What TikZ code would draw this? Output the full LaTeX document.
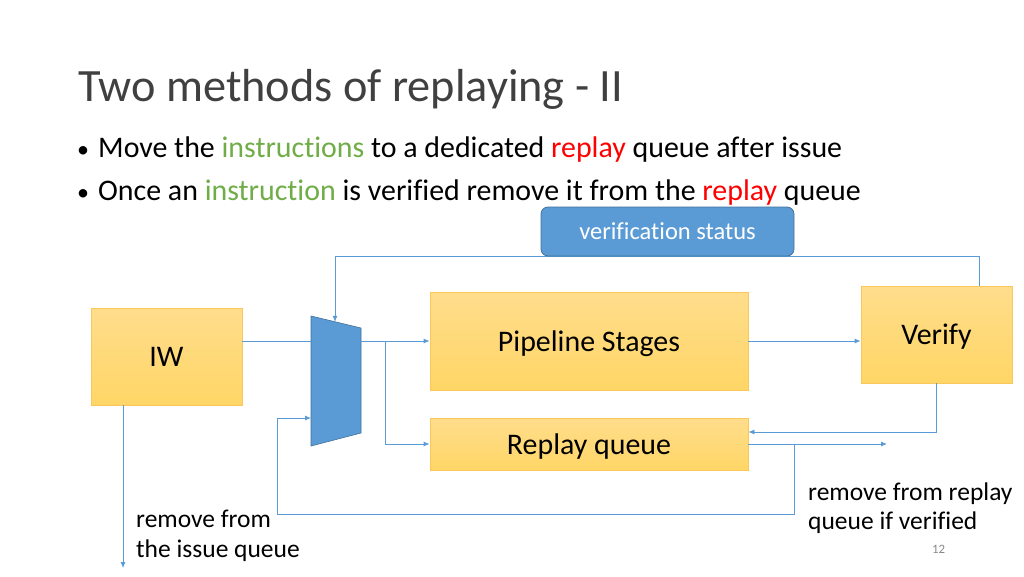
\documentclass[tikz,border=0pt]{standalone}
\usepackage{fontspec}
\setmainfont[Ligatures={NoCommon}]{Carlito}
\usetikzlibrary{arrows.meta,calc}
\definecolor{lnblue}{RGB}{91,155,213}
\definecolor{muxblue}{RGB}{91,155,213}
\definecolor{muxedge}{RGB}{65,113,156}
\definecolor{ytop}{RGB}{255,221,140}
\definecolor{ybot}{RGB}{255,214,102}
\definecolor{yedge}{RGB}{250,200,90}
\definecolor{titlegray}{RGB}{64,64,64}
\definecolor{kwgreen}{RGB}{112,173,71}
\definecolor{kwred}{RGB}{255,0,0}
\definecolor{pagegray}{RGB}{137,137,137}
\begin{document}
\begin{tikzpicture}[x=1pt,y=-1pt,
  ybox/.style={draw=yedge, line width=0.8pt, top color=ytop, bottom color=ybot, inner sep=0pt, font=\fontsize{29.9}{34}\selectfont, text height=28.5pt, text depth=8pt},
  bbox/.style={draw=muxedge, line width=0.8pt, fill=muxblue, rounded corners=7pt, inner sep=0pt, text=white, font=\fontsize{24.5}{28}\selectfont, text height=23.3pt, text depth=6.6pt},
  conn/.style={draw=lnblue, line width=0.8pt},
  arr/.style={conn, -{Latex[length=6pt,width=5pt]}},
  lbl/.style={anchor=base west, inner sep=0pt, font=\fontsize{25.5}{30}\selectfont},
  bul/.style={anchor=base west, inner sep=0pt, font=\fontsize{29.9}{34}\selectfont}
]
\useasboundingbox[fill=white] (0,0) rectangle (1024,576);

% title and bullets
\node[anchor=base west, inner sep=0pt, text=titlegray, font=\fontsize{46.3}{52}\selectfont] (title) at (78,101) {Two methods of replaying - II};
\node[bul, font=\fontsize{24}{30}\selectfont] (b1dot) at (77,157) {•};
\node[bul] (b1) at (98,157) {Move the \textcolor{kwgreen}{instructions} to a dedicated \textcolor{kwred}{replay} queue after issue};
\node[bul, font=\fontsize{24}{30}\selectfont] (b2dot) at (77,200) {•};
\node[bul] (b2) at (98,200) {Once an \textcolor{kwgreen}{instruction} is verified remove it from the \textcolor{kwred}{replay} queue};

% boxes
\node[ybox, minimum width=151pt, minimum height=97pt] (iw) at (166.5,356.5) {IW};
\node[ybox, minimum width=318pt, minimum height=98pt] (pipe) at (589,341) {Pipeline Stages};
\node[ybox, minimum width=318pt, minimum height=52pt] (rq) at (589,444) {Replay queue};
\node[ybox, minimum width=151pt, minimum height=97pt] (ver) at (936.5,334.5) {Verify};

% mux
\coordinate (m1) at (311,316);
\coordinate (m2) at (361,328);
\coordinate (m3) at (361,433);
\coordinate (m4) at (311,446);
\fill[muxblue, draw=muxedge, line width=0.6pt] (m1) -- (m2) -- (m3) -- (m4) -- cycle;
\coordinate (muxin) at (311,341);
\coordinate (muxout) at (361,341);
\coordinate (muxtop) at (335,321.8);
\coordinate (muxfb) at (311,418);

% connectors
\draw[conn] (iw.east |- muxin) -- (muxin);
\draw[arr] (muxout) -- (muxout -| pipe.west);
\coordinate (br) at (385,341);
\draw[arr] (br) |- (rq.west);
\draw[arr] (pipe.east) -- (pipe.east -| ver.west);
\coordinate (vtop) at (979,286);
\draw[arr] (vtop) -- ++(0,-30) -| (muxtop);
\draw[arr] (ver.south) |- ($(rq.east)+(0,-12)$);
\coordinate (rqout) at (887,444);
\draw[arr] (rq.east) -- (rqout);
\coordinate (fbsplit) at (794,444);
\draw[arr] (fbsplit) -- (794,514) -| (277,418) -- (muxfb);
\coordinate (iwb) at (123,405);
\coordinate (iwend) at (123,568);
\draw[arr] (iwb) -- (iwend);

% verification status (over the feedback line)
\node[bbox, minimum width=253pt, minimum height=49pt] (vs) at (667.5,231.5) {verification status};

% labels
\node[lbl] (l1a) at (136,527) {remove from};
\node[lbl] (l1b) at (136,557) {the issue queue};
\node[lbl] (l2a) at (808,500) {remove from replay};
\node[lbl] (l2b) at (808,529) {queue if verified};
\node[anchor=base west, inner sep=0pt, text=pagegray, font=\fontsize{12.8}{15}\selectfont] (pg) at (932,553) {12};
\end{tikzpicture}
\end{document}
